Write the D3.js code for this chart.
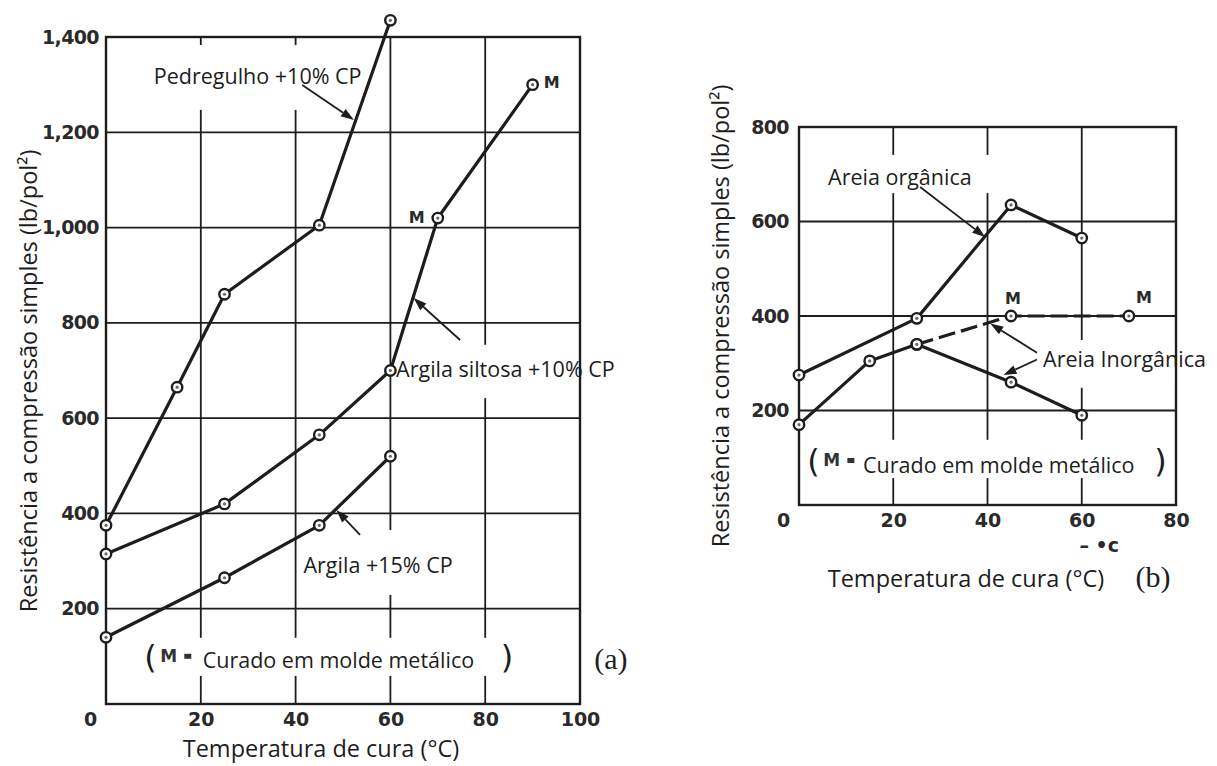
<!DOCTYPE html>
<html>
<head>
<meta charset="utf-8">
<script src="https://cdn.jsdelivr.net/npm/d3@7"></script>
<style>
  body { margin: 0; background: #ffffff; }
  svg { display: block; }
</style>
</head>
<body>
<svg id="chart" width="1217" height="766"></svg>
<script>
// ---- Panel (a): soil-cement mixes ----
const aTempTicks = [0, 20, 40, 60, 80, 100];
const aStrengthTicks = [200, 400, 600, 800, 1000, 1200, 1400];

const pedregulhoTemp = [0, 15, 25, 45, 60];
const pedregulhoStrength = [375, 665, 860, 1005, 1435];

const siltosaTemp = [0, 25, 45, 60, 70, 90];
const siltosaStrength = [315, 420, 565, 700, 1020, 1300];
const siltosaMetalMold = [false, false, false, false, true, true];

const argilaTemp = [0, 25, 45, 60];
const argilaStrength = [140, 265, 375, 520];

// ---- Panel (b): sands ----
const bTempTicks = [0, 20, 40, 60, 80];
const bStrengthTicks = [200, 400, 600, 800];

const organicaTemp = [0, 25, 45, 60];
const organicaStrength = [275, 395, 635, 565];

const inorganicaTemp = [0, 15, 25, 45, 60];
const inorganicaStrength = [170, 305, 340, 260, 190];

const inorganicaMoldTemp = [25, 45, 70];
const inorganicaMoldStrength = [340, 400, 400];
const inorganicaMetalMold = [false, true, true];

const yTitle = "Resistência a compressão simples (lb/pol²)";
const xTitle = "Temperatura de cura (°C)";
const moldNote = "Curado em molde metálico";

const ink = "#1d1d1d";
const textFont = "'Open Sans', sans-serif";
const tickFont = "'DejaVu Sans', sans-serif";
const labelSize = 21.5;
const titleSize = 23.5;

const svg = d3.select("#chart");

const zip = (xs, ys) => xs.map((t, i) => ({ t, s: ys[i], i }));

function arrow(g, x, y, from, to) {
  const x1 = x(from[0]), y1 = y(from[1]), x2 = x(to[0]), y2 = y(to[1]);
  const ang = Math.atan2(y2 - y1, x2 - x1);
  const len = 13, half = 4.5;
  const bx = x2 - len * Math.cos(ang), by = y2 - len * Math.sin(ang);
  g.append("line")
    .attr("x1", x1).attr("y1", y1).attr("x2", bx).attr("y2", by)
    .attr("stroke", ink).attr("stroke-width", 1.8);
  g.append("path")
    .attr("d", `M${x2},${y2}L${bx - half * Math.sin(ang)},${by + half * Math.cos(ang)}L${bx + half * Math.sin(ang)},${by - half * Math.cos(ang)}Z`)
    .attr("fill", ink);
}

function drawPanel(p) {
  const g = svg.append("g");
  const x = d3.scaleLinear().domain(p.xDomain).range(p.xRange);
  const y = d3.scaleLinear().domain(p.yDomain).range(p.yRange);

  // grid
  g.append("g").selectAll("line").data(p.xTicks).join("line")
    .attr("x1", d => x(d)).attr("x2", d => x(d))
    .attr("y1", y(p.yDomain[0])).attr("y2", y(p.yDomain[1]))
    .attr("stroke", ink).attr("stroke-width", 1.8);
  g.append("g").selectAll("line").data(p.yTicks).join("line")
    .attr("x1", x(p.xDomain[0])).attr("x2", x(p.xDomain[1]))
    .attr("y1", d => y(d)).attr("y2", d => y(d))
    .attr("stroke", ink).attr("stroke-width", 1.8);

  // frame
  g.append("rect")
    .attr("x", x(p.xDomain[0])).attr("y", y(p.yDomain[1]))
    .attr("width", x(p.xDomain[1]) - x(p.xDomain[0]))
    .attr("height", y(p.yDomain[0]) - y(p.yDomain[1]))
    .attr("fill", "none").attr("stroke", ink).attr("stroke-width", 2.4);

  // white label boxes that interrupt the grid
  g.append("g").selectAll("rect").data(p.boxes).join("rect")
    .attr("x", d => x(d[0])).attr("width", d => x(d[1]) - x(d[0]))
    .attr("y", d => y(d[2])).attr("height", d => y(d[3]) - y(d[2]))
    .attr("fill", "#ffffff");

  // axes
  const xAxis = g.append("g")
    .attr("transform", `translate(0,${y(p.yDomain[0])})`)
    .call(d3.axisBottom(x).tickValues(p.xTicks).tickSize(0).tickPadding(9).tickFormat(d3.format("d")));
  const yAxis = g.append("g")
    .attr("transform", `translate(${x(p.xDomain[0])},0)`)
    .call(d3.axisLeft(y).tickValues(p.yTicks).tickSize(0).tickPadding(p.yPad).tickFormat(d3.format(",")));
  [xAxis, yAxis].forEach(a => {
    a.select(".domain").remove();
    a.selectAll("text")
      .attr("font-family", tickFont).attr("font-weight", "bold")
      .attr("font-size", 19).attr("fill", "#2a2a2a");
  });
  yAxis.selectAll("text").attr("letter-spacing", -0.6);
  xAxis.selectAll(".tick").filter(d => d === 0).select("text").attr("dx", -16);

  // axis titles
  g.append("text")
    .attr("transform", `translate(${p.yTitlePos[0]},${p.yTitlePos[1]}) rotate(-90)`)
    .attr("text-anchor", "middle").attr("dominant-baseline", "central")
    .attr("font-family", textFont).attr("font-size", titleSize).attr("fill", ink)
    .text(yTitle);
  g.append("text")
    .attr("x", p.xTitlePos[0]).attr("y", p.xTitlePos[1])
    .attr("text-anchor", "middle").attr("dominant-baseline", "central")
    .attr("font-family", textFont).attr("font-size", titleSize).attr("fill", ink)
    .text(xTitle);

  // panel letter
  g.append("text")
    .attr("x", x(p.letterPos[0])).attr("y", y(p.letterPos[1]))
    .attr("text-anchor", "middle").attr("dominant-baseline", "central")
    .attr("font-family", "'Liberation Serif', serif").attr("font-size", 30).attr("fill", ink)
    .text(p.letter);

  // series labels
  p.labels.forEach(l => {
    g.append("text")
      .attr("x", x(l.at[0])).attr("y", y(l.at[1]))
      .attr("text-anchor", l.anchor).attr("dominant-baseline", "central")
      .attr("font-family", textFont).attr("font-size", labelSize).attr("fill", ink)
      .text(l.text);
  });

  // metal-mould note
  const n = p.note;
  const ny = y(n.y);
  g.append("text").attr("x", x(n.open) - 2).attr("y", ny - 1).attr("dominant-baseline", "central")
    .attr("font-family", "'DejaVu Sans', sans-serif").attr("font-size", 32).attr("fill", ink).text("(");
  g.append("text").attr("x", x(n.open) + 14).attr("y", ny - 2).attr("dominant-baseline", "central")
    .attr("font-family", tickFont).attr("font-weight", "bold").attr("font-size", 17).attr("fill", "#333").text("M");
  g.append("rect").attr("x", x(n.open) + 38).attr("y", ny - 4).attr("width", 7).attr("height", 5).attr("fill", "#333");
  g.append("text").attr("x", x(n.text)).attr("y", ny + 2).attr("dominant-baseline", "central")
    .attr("font-family", textFont).attr("font-size", labelSize).attr("fill", ink).text(moldNote);
  g.append("text").attr("x", x(n.close)).attr("y", ny - 1).attr("dominant-baseline", "central")
    .attr("font-family", "'DejaVu Sans', sans-serif").attr("font-size", 32).attr("fill", ink).text(")");

  // arrows
  p.arrows.forEach(a => arrow(g, x, y, a[0], a[1]));

  // series
  const line = d3.line().x(d => x(d.t)).y(d => y(d.s));
  p.series.forEach(s => {
    const pts = zip(s.t, s.s);
    g.append("path").datum(pts)
      .attr("d", line).attr("fill", "none")
      .attr("stroke", ink).attr("stroke-width", 3.2)
      .attr("stroke-linejoin", "round")
      .attr("stroke-dasharray", s.dashed ? "17,6" : null);
  });
  p.series.forEach(s => {
    const pts = zip(s.t, s.s);
    const mk = g.append("g").selectAll("g").data(pts).join("g")
      .attr("transform", d => `translate(${x(d.t)},${y(d.s)})`);
    mk.append("circle").attr("r", 5.2).attr("fill", "#fff").attr("stroke", ink).attr("stroke-width", 2.4);
    mk.append("circle").attr("r", 1.6).attr("fill", "#666");
    if (s.metal) {
      mk.filter(d => s.metal[d.i]).append("text")
        .attr("x", d => s.mOffset[d.i][0]).attr("y", d => s.mOffset[d.i][1])
        .attr("text-anchor", "middle").attr("dominant-baseline", "central")
        .attr("font-family", tickFont).attr("font-weight", "bold").attr("font-size", 16)
        .attr("fill", "#2a2a2a").text("M");
    }
  });

  return { g, x, y };
}

// ---------- Panel (a) ----------
drawPanel({
  xDomain: [0, 100], xRange: [106, 580],
  yDomain: [0, 1400], yRange: [704, 37],
  xTicks: aTempTicks, yTicks: aStrengthTicks, yPad: 7,
  yTitlePos: [28, 381], xTitlePos: [321, 748],
  letter: "(a)", letterPos: [106.5, 96],
  boxes: [
    [8.9, 54.9, 1383, 1247],
    [60.5, 99.5, 754, 642],
    [41, 73.6, 365, 229],
    [7.2, 85.2, 139, 59]
  ],
  labels: [
    { text: "Pedregulho +10% CP", at: [32, 1320], anchor: "middle" },
    { text: "Argila siltosa +10% CP", at: [61.2, 705], anchor: "start" },
    { text: "Argila +15% CP", at: [57.4, 292], anchor: "middle" }
  ],
  note: { y: 97, open: 8.5, text: 20.4, close: 83.3 },
  arrows: [
    [[41.4, 1299], [52.3, 1226]],
    [[74.7, 764], [64.9, 852]],
    [[53.6, 355], [48.6, 407]]
  ],
  series: [
    { t: pedregulhoTemp, s: pedregulhoStrength },
    { t: siltosaTemp, s: siltosaStrength, metal: siltosaMetalMold,
      mOffset: [null, null, null, null, [-21, -1], [19, -2]] },
    { t: argilaTemp, s: argilaStrength }
  ]
});

// ---------- Panel (b) ----------
const pb = drawPanel({
  xDomain: [0, 80], xRange: [799, 1176],
  yDomain: [0, 800], yRange: [505, 127],
  xTicks: bTempTicks, yTicks: bStrengthTicks, yPad: 10,
  yTitlePos: [720, 316], xTitlePos: [966, 578],
  letter: "(b)", letterPos: [75.1, -152],
  boxes: [
    [4.9, 42.7, 741, 660],
    [51.1, 79.6, 349, 248],
    [1.3, 77.7, 138, 57]
  ],
  labels: [
    { text: "Areia orgânica", at: [21.4, 696], anchor: "middle" },
    { text: "Areia Inorgânica", at: [51.8, 311], anchor: "start" }
  ],
  note: { y: 91, open: 2.2, text: 13.6, close: 75.4 },
  arrows: [
    [[25.7, 673], [39.5, 567]],
    [[50.5, 322], [40.6, 384]],
    [[50.5, 308], [43.4, 275]]
  ],
  series: [
    { t: organicaTemp, s: organicaStrength },
    { t: inorganicaTemp, s: inorganicaStrength },
    { t: inorganicaMoldTemp, s: inorganicaMoldStrength, dashed: true, metal: inorganicaMetalMold,
      mOffset: [null, [2, -18], [15, -19]] }
  ]
});

// temperature unit mark under the (b) axis
pb.g.append("text")
  .attr("x", pb.x(59.5)).attr("y", 545).attr("dominant-baseline", "central")
  .attr("font-family", tickFont).attr("font-weight", "bold").attr("font-size", 19)
  .attr("fill", "#2a2a2a").text("– •c");
</script>
</body>
</html>
